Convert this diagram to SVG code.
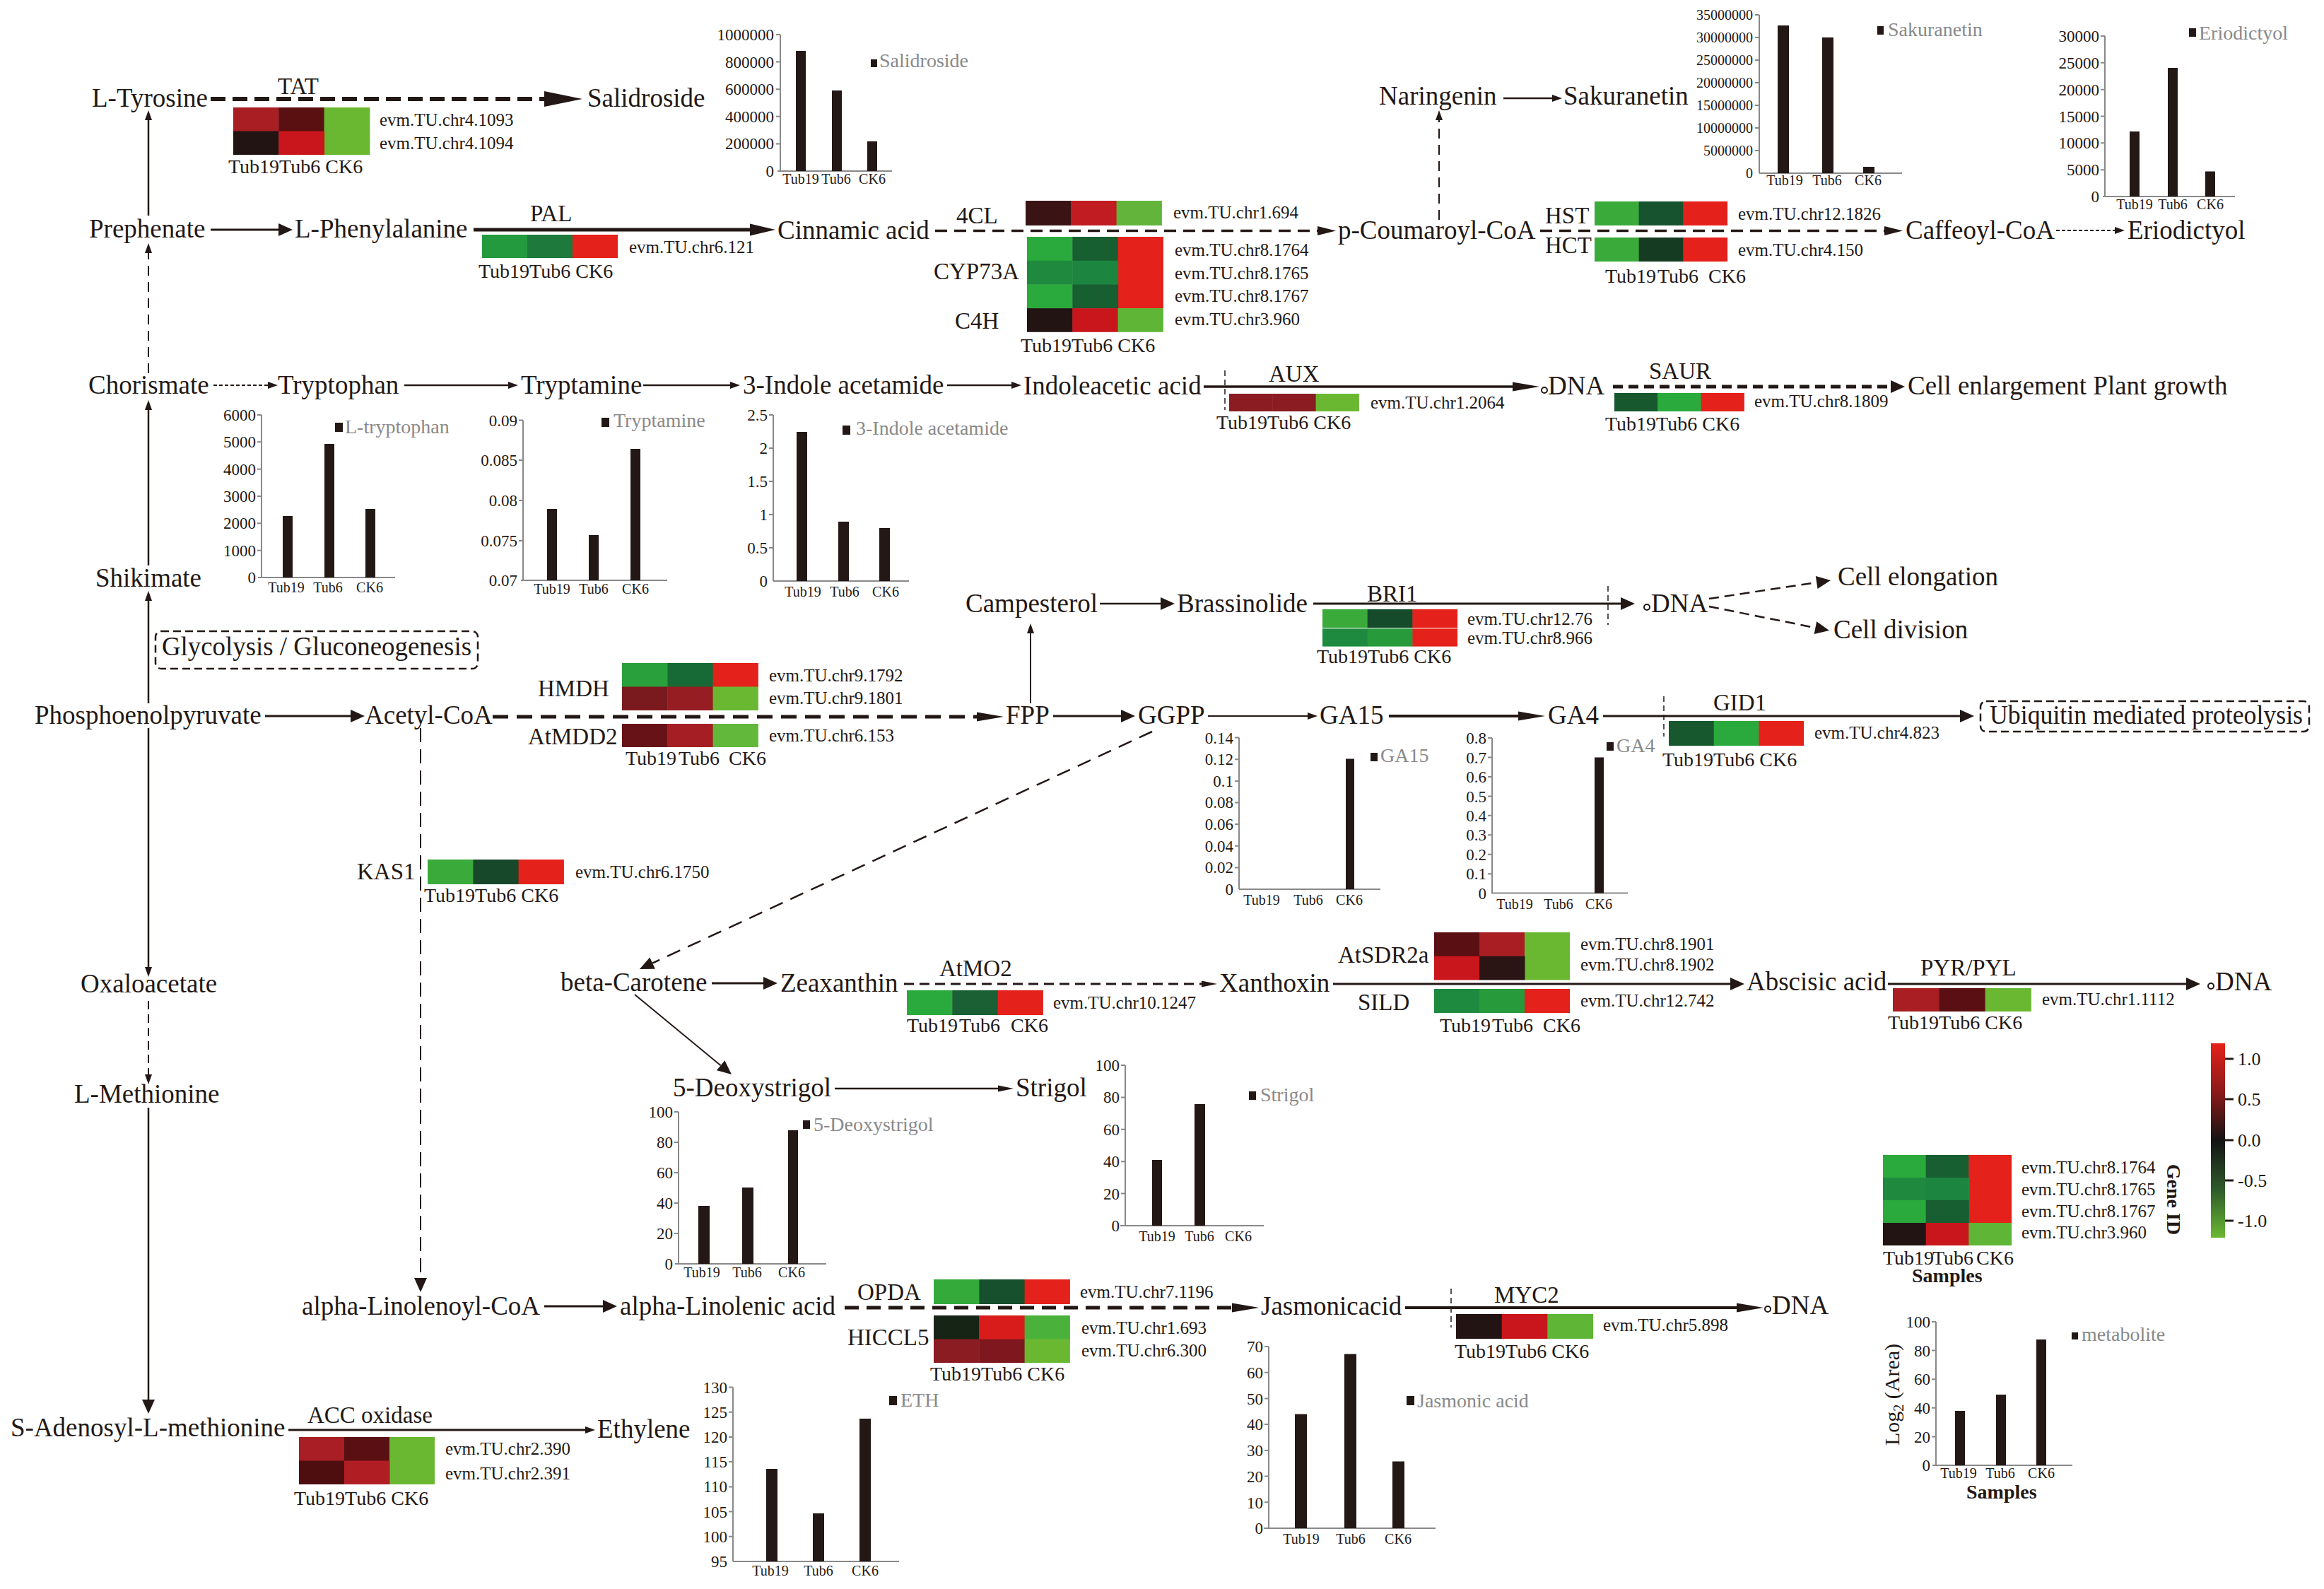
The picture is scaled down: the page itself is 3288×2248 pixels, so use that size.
<svg xmlns="http://www.w3.org/2000/svg" width="3288" height="2248" viewBox="0 0 3288 2248">
<style>
text{font-family:"Liberation Serif","Times New Roman",serif;fill:#231815}
.m{font-size:37px}
.e{font-size:33px}
.g{font-size:25px}
.s{font-size:28px}
.t{font-size:23px;text-anchor:end}
.t2{font-size:20px;text-anchor:end}
.x{font-size:20px;text-anchor:middle}
.lg{font-size:28px;fill:#898989}
.b{font-weight:bold}
.ln{stroke:#231815;fill:none}
.ax{stroke:#898989;stroke-width:2;fill:none}
.bar{fill:#231815}
.box{fill:none;stroke:#231815;stroke-width:2.5;stroke-dasharray:11 6}
.tk{stroke:#231815;stroke-width:1.5;stroke-dasharray:8 5}
</style>
<defs>
<marker id="big" viewBox="0 -11 54 22" markerWidth="54" markerHeight="22" refX="0" refY="0" orient="auto" markerUnits="userSpaceOnUse" overflow="visible"><path d="M0,-11L54,0L0,11z" fill="#231815"/></marker>
<marker id="long" viewBox="0 -6.5 38 13" markerWidth="38" markerHeight="13" refX="0" refY="0" orient="auto" markerUnits="userSpaceOnUse" overflow="visible"><path d="M0,-6.5L38,0L0,6.5z" fill="#231815"/></marker>
<marker id="long2" viewBox="0 -8.5 36 17" markerWidth="36" markerHeight="17" refX="0" refY="0" orient="auto" markerUnits="userSpaceOnUse" overflow="visible"><path d="M0,-8.5L36,0L0,8.5z" fill="#231815"/></marker>
<marker id="mid2" viewBox="0 -6.5 26 13" markerWidth="26" markerHeight="13" refX="0" refY="0" orient="auto" markerUnits="userSpaceOnUse" overflow="visible"><path d="M0,-6.5L26,0L0,6.5z" fill="#231815"/></marker>
<marker id="med" viewBox="0 -9 20 18" markerWidth="20" markerHeight="18" refX="0" refY="0" orient="auto" markerUnits="userSpaceOnUse" overflow="visible"><path d="M0,-9L20,0L0,9z" fill="#231815"/></marker>
<marker id="small" viewBox="0 -5 14 10" markerWidth="14" markerHeight="10" refX="0" refY="0" orient="auto" markerUnits="userSpaceOnUse" overflow="visible"><path d="M0,-5L14,0L0,5z" fill="#231815"/></marker>
<marker id="ls" viewBox="0 -4.5 22 9" markerWidth="22" markerHeight="9" refX="0" refY="0" orient="auto" markerUnits="userSpaceOnUse" overflow="visible"><path d="M0,-4.5L22,0L0,4.5z" fill="#231815"/></marker>
<linearGradient id="cs" x1="0" y1="0" x2="0" y2="1">
<stop offset="0" stop-color="#e4211a"/><stop offset="0.25" stop-color="#8c1a1a"/><stop offset="0.5" stop-color="#141414"/><stop offset="0.75" stop-color="#2e5a2a"/><stop offset="1" stop-color="#6ab832"/>
</linearGradient>
</defs>
<rect width="3288" height="2248" fill="#fff"/>

<g id="connectors">
<line class="ln" x1="298" y1="140" x2="770" y2="140" stroke-width="6" stroke-dasharray="21 10" marker-end="url(#big)"/>
<line class="ln" x1="210" y1="305" x2="210" y2="170" stroke-width="2.5" marker-end="url(#small)"/>
<line class="ln" x1="298" y1="325" x2="394" y2="325" stroke-width="3" marker-end="url(#med)"/>
<line class="ln" x1="670" y1="325" x2="1061" y2="325" stroke-width="5" marker-end="url(#long2)"/>
<line class="ln" x1="1323" y1="326.5" x2="1864" y2="326.5" stroke-width="3.5" stroke-dasharray="17 10" marker-end="url(#mid2)"/>
<line class="ln" x1="2036" y1="311" x2="2036" y2="170" stroke-width="2" stroke-dasharray="14 9" marker-end="url(#small)"/>
<line class="ln" x1="2127" y1="139" x2="2196" y2="139" stroke-width="2.5" marker-end="url(#small)"/>
<line class="ln" x1="2179" y1="326.5" x2="2666" y2="326.5" stroke-width="3.5" stroke-dasharray="17 10" marker-end="url(#mid2)"/>
<line class="ln" x1="2909" y1="326" x2="2992" y2="326" stroke-width="2" stroke-dasharray="5 3" marker-end="url(#small)"/>
<line class="ln" x1="210" y1="528" x2="210" y2="358" stroke-width="2" stroke-dasharray="14 9" marker-end="url(#small)"/>
<line class="ln" x1="302" y1="545" x2="379" y2="545" stroke-width="2" stroke-dasharray="5 3" marker-end="url(#small)"/>
<line class="ln" x1="572" y1="545" x2="719" y2="545" stroke-width="2.5" marker-end="url(#small)"/>
<line class="ln" x1="910" y1="545" x2="1033" y2="545" stroke-width="2.5" marker-end="url(#small)"/>
<line class="ln" x1="1340" y1="545" x2="1431" y2="545" stroke-width="2.5" marker-end="url(#small)"/>
<line class="ln" x1="1703" y1="547" x2="2140" y2="547" stroke-width="3.5" marker-end="url(#long)"/>
<line class="tk" x1="1733" y1="524" x2="1733" y2="580"/>
<line class="ln" x1="2282" y1="547" x2="2675" y2="547" stroke-width="5" stroke-dasharray="14 8" marker-end="url(#med)"/>
<line class="ln" x1="210" y1="800" x2="210" y2="580" stroke-width="2.5" marker-end="url(#small)"/>
<line class="ln" x1="210" y1="995" x2="210" y2="850" stroke-width="2.5" marker-end="url(#small)"/>
<line class="ln" x1="210" y1="1030" x2="210" y2="1368" stroke-width="2.5" marker-end="url(#small)"/>
<line class="ln" x1="210" y1="1416" x2="210" y2="1520" stroke-width="2" stroke-dasharray="12 7" marker-end="url(#small)"/>
<line class="ln" x1="210" y1="1567" x2="210" y2="1980" stroke-width="2.5" marker-end="url(#med)"/>
<line class="ln" x1="375" y1="1013" x2="496" y2="1013" stroke-width="3" marker-end="url(#med)"/>
<line class="ln" x1="697" y1="1014" x2="1382" y2="1014" stroke-width="5" stroke-dasharray="22 12" marker-end="url(#long)"/>
<line class="ln" x1="595" y1="1030" x2="595" y2="1808" stroke-width="2" stroke-dasharray="20 10" marker-end="url(#med)"/>
<line class="ln" x1="1458" y1="995" x2="1458" y2="896" stroke-width="2" marker-end="url(#small)"/>
<line class="ln" x1="1556" y1="854" x2="1642" y2="854" stroke-width="2.5" marker-end="url(#med)"/>
<line class="ln" x1="1858" y1="854" x2="2293" y2="854" stroke-width="3" marker-end="url(#med)"/>
<line class="tk" x1="2275" y1="829" x2="2275" y2="884"/>
<line class="ln" x1="2418" y1="847" x2="2570.2" y2="824" stroke-width="2.5" stroke-dasharray="14 8" marker-end="url(#med)"/>
<line class="ln" x1="2418" y1="858" x2="2568.4" y2="888.1" stroke-width="2.5" stroke-dasharray="14 8" marker-end="url(#med)"/>
<line class="ln" x1="1490" y1="1013" x2="1586" y2="1013" stroke-width="3" marker-end="url(#med)"/>
<line class="ln" x1="1709" y1="1013" x2="1850" y2="1013" stroke-width="2" marker-end="url(#small)"/>
<line class="ln" x1="1965" y1="1013" x2="2148" y2="1013" stroke-width="4" marker-end="url(#long)"/>
<line class="ln" x1="2268" y1="1013" x2="2773" y2="1013" stroke-width="3" stroke="#3e3a39" marker-end="url(#med)"/>
<line class="tk" x1="2354" y1="985" x2="2354" y2="1042"/>
<line class="ln" x1="1630" y1="1035" x2="923.1" y2="1362.6" stroke-width="2.5" stroke-dasharray="20 12" marker-end="url(#med)"/>
<line class="ln" x1="1007" y1="1391" x2="1080" y2="1391" stroke-width="3" marker-end="url(#med)"/>
<line class="ln" x1="1279" y1="1392" x2="1700" y2="1392" stroke-width="3" stroke-dasharray="14 8" marker-end="url(#ls)"/>
<line class="ln" x1="1886" y1="1392" x2="2448" y2="1392" stroke-width="3" marker-end="url(#med)"/>
<line class="ln" x1="2671" y1="1392" x2="3093" y2="1392" stroke-width="3" marker-end="url(#med)"/>
<line class="ln" x1="898" y1="1407" x2="1019.6" y2="1507.3" stroke-width="2" marker-end="url(#med)"/>
<line class="ln" x1="1181" y1="1540" x2="1412" y2="1540" stroke-width="2.5" marker-end="url(#ls)"/>
<line class="ln" x1="770" y1="1848" x2="853" y2="1848" stroke-width="3" marker-end="url(#med)"/>
<line class="ln" x1="1195" y1="1850" x2="1743" y2="1850" stroke-width="5" stroke-dasharray="20 11" marker-end="url(#long)"/>
<line class="ln" x1="1988" y1="1850" x2="2457" y2="1850" stroke-width="4" marker-end="url(#long)"/>
<line class="tk" x1="2053" y1="1823" x2="2053" y2="1878"/>
<line class="ln" x1="408" y1="2023" x2="828" y2="2023" stroke-width="3" marker-end="url(#small)"/>
</g>

<g id="n-ltyrosine"><text class="m" x="130" y="151">L-Tyrosine</text></g>
<g id="n-salidroside"><text class="m" x="831" y="151">Salidroside</text></g>
<g id="n-prephenate"><text class="m" x="126" y="336">Prephenate</text></g>
<g id="n-lphenylalanine"><text class="m" x="417" y="336">L-Phenylalanine</text></g>
<g id="n-cinnamic"><text class="m" x="1100" y="338">Cinnamic acid</text></g>
<g id="n-pcoumaroyl"><text class="m" x="1893" y="338">p-Coumaroyl-CoA</text></g>
<g id="n-naringenin"><text class="m" x="1951" y="148">Naringenin</text></g>
<g id="n-sakuranetin"><text class="m" x="2212" y="148">Sakuranetin</text></g>
<g id="n-caffeoyl"><text class="m" x="2696" y="338">Caffeoyl-CoA</text></g>
<g id="n-eriodictyol"><text class="m" x="3010" y="338">Eriodictyol</text></g>
<g id="n-chorismate"><text class="m" x="125" y="557">Chorismate</text></g>
<g id="n-tryptophan"><text class="m" x="393" y="557">Tryptophan</text></g>
<g id="n-tryptamine"><text class="m" x="737" y="557">Tryptamine</text></g>
<g id="n-indoleacetamide"><text class="m" x="1051" y="557">3-Indole acetamide</text></g>
<g id="n-iaa"><text class="m" x="1448" y="558">Indoleacetic acid</text></g>
<g id="n-dna1"><circle cx="2185" cy="552" r="4" fill="none" stroke="#231815" stroke-width="2"/><text class="m" x="2190" y="558">DNA</text></g>
<g id="n-cellenlarge"><text class="m" x="2699" y="558">Cell enlargement Plant growth</text></g>
<g id="n-shikimate"><text class="m" x="135" y="830">Shikimate</text></g>
<g id="n-glycolysis"><rect class="box" x="220" y="893" width="456" height="53" rx="8"/><text class="m" x="229" y="927" textLength="438" lengthAdjust="spacingAndGlyphs">Glycolysis / Gluconeogenesis</text></g>
<g id="n-campesterol"><text class="m" x="1366" y="866">Campesterol</text></g>
<g id="n-brassinolide"><text class="m" x="1665" y="866">Brassinolide</text></g>
<g id="n-dna2"><circle cx="2330" cy="859" r="4" fill="none" stroke="#231815" stroke-width="2"/><text class="m" x="2336" y="866">DNA</text></g>
<g id="n-cellelong"><text class="m" x="2600" y="828">Cell elongation</text></g>
<g id="n-celldiv"><text class="m" x="2594" y="903">Cell division</text></g>
<g id="n-pep"><text class="m" x="49" y="1024">Phosphoenolpyruvate</text></g>
<g id="n-acetylcoa"><text class="m" x="516" y="1024">Acetyl-CoA</text></g>
<g id="n-fpp"><text class="m" x="1423" y="1024">FPP</text></g>
<g id="n-ggpp"><text class="m" x="1610" y="1024">GGPP</text></g>
<g id="n-ga15"><text class="m" x="1867" y="1024">GA15</text></g>
<g id="n-ga4"><text class="m" x="2190" y="1024">GA4</text></g>
<g id="n-ubiquitin"><rect class="box" x="2802" y="992" width="465" height="43" rx="8"/><text class="m" x="2815" y="1024" textLength="443" lengthAdjust="spacingAndGlyphs">Ubiquitin mediated proteolysis</text></g>
<g id="n-oxaloacetate"><text class="m" x="114" y="1404">Oxaloacetate</text></g>
<g id="n-betacarotene"><text class="m" x="793" y="1402">beta-Carotene</text></g>
<g id="n-zeaxanthin"><text class="m" x="1104" y="1403">Zeaxanthin</text></g>
<g id="n-xanthoxin"><text class="m" x="1725" y="1403">Xanthoxin</text></g>
<g id="n-aba"><text class="m" x="2471" y="1401">Abscisic acid</text></g>
<g id="n-dna3"><circle cx="3128" cy="1395" r="4" fill="none" stroke="#231815" stroke-width="2"/><text class="m" x="3134" y="1401">DNA</text></g>
<g id="n-deoxystrigol"><text class="m" x="952" y="1551">5-Deoxystrigol</text></g>
<g id="n-strigol"><text class="m" x="1437" y="1551">Strigol</text></g>
<g id="n-lmethionine"><text class="m" x="105" y="1560">L-Methionine</text></g>
<g id="n-linolenoylcoa"><text class="m" x="427" y="1860">alpha-Linolenoyl-CoA</text></g>
<g id="n-linolenic"><text class="m" x="877" y="1860">alpha-Linolenic acid</text></g>
<g id="n-jasmonic"><text class="m" x="1784" y="1860">Jasmonicacid</text></g>
<g id="n-dna4"><circle cx="2501" cy="1852" r="4" fill="none" stroke="#231815" stroke-width="2"/><text class="m" x="2507" y="1859">DNA</text></g>
<g id="n-sam"><text class="m" x="15" y="2032">S-Adenosyl-L-methionine</text></g>
<g id="n-ethylene"><text class="m" x="845" y="2034">Ethylene</text></g>

<!-- enzyme heatmaps -->
<g id="e-tat">
<text class="e" x="393" y="133">TAT</text>
<rect x="330" y="152" width="64.8" height="34" fill="#a81e22"/><rect x="394.3" y="152" width="64.8" height="34" fill="#5a0f10"/><rect x="458.6" y="152" width="64.8" height="67" fill="#6ab832"/>
<rect x="330" y="185.5" width="64.8" height="33.5" fill="#231414"/><rect x="394.3" y="185.5" width="64.8" height="33.5" fill="#c8161c"/>
<text class="g" x="537" y="178">evm.TU.chr4.1093</text><text class="g" x="537" y="211">evm.TU.chr4.1094</text>
<text class="s" x="323" y="245">Tub19Tub6 CK6</text>
</g>
<g id="e-pal">
<text class="e" x="750" y="313">PAL</text>
<rect x="682" y="332" width="64.5" height="33" fill="#239a3e"/><rect x="746" y="332" width="64.5" height="33" fill="#1e7a3c"/><rect x="810" y="332" width="64" height="33" fill="#e4211a"/>
<text class="g" x="890" y="358">evm.TU.chr6.121</text>
<text class="s" x="677" y="393">Tub19Tub6 CK6</text>
</g>
<g id="e-4cl">
<text class="e" x="1353" y="316">4CL</text>
<rect x="1451" y="284" width="64.8" height="35" fill="#3a1414"/><rect x="1515.3" y="284" width="64.8" height="35" fill="#c01c22"/><rect x="1579.6" y="284" width="64.3" height="35" fill="#62b43a"/>
<text class="g" x="1660" y="309">evm.TU.chr1.694</text>
</g>
<g id="e-cyp73a">
<text class="e" x="1321" y="394.5">CYP73A</text>
<text class="e" x="1351" y="465">C4H</text>
<rect x="1453" y="335" width="64.8" height="34.2" fill="#2aaa3c"/><rect x="1517.3" y="335" width="64.8" height="34.2" fill="#175e30"/><rect x="1581.6" y="335" width="64.3" height="101.5" fill="#e4211a"/>
<rect x="1453" y="368.7" width="64.8" height="34.2" fill="#1f8a3e"/><rect x="1517.3" y="368.7" width="64.8" height="34.2" fill="#1c8540"/>
<rect x="1453" y="402.4" width="64.8" height="34.2" fill="#2aaa3c"/><rect x="1517.3" y="402.4" width="64.8" height="34.2" fill="#175e30"/>
<rect x="1453" y="436.1" width="64.8" height="33.7" fill="#231414"/><rect x="1517.3" y="436.1" width="64.8" height="33.7" fill="#c8161c"/><rect x="1581.6" y="436.1" width="64.3" height="33.7" fill="#5fb535"/>
<text class="g" x="1662" y="362">evm.TU.chr8.1764</text><text class="g" x="1662" y="394.5">evm.TU.chr8.1765</text><text class="g" x="1662" y="427">evm.TU.chr8.1767</text><text class="g" x="1662" y="460">evm.TU.chr3.960</text>
<text class="s" x="1444" y="498">Tub19Tub6 CK6</text>
</g>
<g id="e-hst">
<text class="e" x="2186" y="316">HST</text>
<rect x="2256" y="285" width="63.2" height="34" fill="#3aaa3a"/><rect x="2318.7" y="285" width="63.2" height="34" fill="#17532e"/><rect x="2381.4" y="285" width="62.7" height="34" fill="#e4211a"/>
<text class="g" x="2459" y="311">evm.TU.chr12.1826</text>
</g>
<g id="e-hct">
<text class="e" x="2186" y="358">HCT</text>
<rect x="2256" y="336" width="63.2" height="34" fill="#3aaa3a"/><rect x="2318.7" y="336" width="63.2" height="34" fill="#153c22"/><rect x="2381.4" y="336" width="62.7" height="34" fill="#e4211a"/>
<text class="g" x="2459" y="362">evm.TU.chr4.150</text>
<text class="s" y="400"><tspan x="2271">Tub19</tspan><tspan x="2345">Tub6</tspan><tspan x="2417">CK6</tspan></text>
</g>
<g id="e-aux">
<text class="e" x="1795" y="540">AUX</text>
<rect x="1739" y="557" width="61.8" height="25" fill="#8a1c22"/><rect x="1800.3" y="557" width="61.8" height="25" fill="#8a1c22"/><rect x="1861.6" y="557" width="61.3" height="25" fill="#6ab832"/>
<text class="g" x="1939" y="578">evm.TU.chr1.2064</text>
<text class="s" x="1721" y="607">Tub19Tub6 CK6</text>
</g>
<g id="e-saur">
<text class="e" x="2333" y="536">SAUR</text>
<rect x="2284" y="556" width="61.8" height="26" fill="#17582e"/><rect x="2345.3" y="556" width="61.8" height="26" fill="#2aaa3c"/><rect x="2406.6" y="556" width="61.3" height="26" fill="#e4211a"/>
<text class="g" x="2482" y="576">evm.TU.chr8.1809</text>
<text class="s" x="2271" y="609">Tub19Tub6 CK6</text>
</g>
<g id="e-bri1">
<text class="e" x="1934" y="851">BRI1</text>
<rect x="1871" y="862" width="64.2" height="26.3" fill="#3aaa3a"/><rect x="1934.7" y="862" width="64.2" height="26.3" fill="#154a2a"/><rect x="1998.4" y="862" width="63.7" height="26.3" fill="#e4211a"/>
<rect x="1871" y="889.3" width="64.2" height="25.3" fill="#1e8a40"/><rect x="1934.7" y="889.3" width="64.2" height="25.3" fill="#279a3c"/><rect x="1998.4" y="889.3" width="63.7" height="25.3" fill="#e4211a"/>
<text class="g" x="2076" y="884">evm.TU.chr12.76</text><text class="g" x="2076" y="911">evm.TU.chr8.966</text>
<text class="s" x="1863" y="938">Tub19Tub6 CK6</text>
</g>
<g id="e-hmdh">
<text class="e" x="761" y="985">HMDH</text>
<rect x="880" y="938" width="64.8" height="34" fill="#2aa03c"/><rect x="944.3" y="938" width="64.8" height="34" fill="#176a36"/><rect x="1008.6" y="938" width="64.3" height="34" fill="#e4211a"/>
<rect x="880" y="971.5" width="64.8" height="33.5" fill="#7a1a1e"/><rect x="944.3" y="971.5" width="64.8" height="33.5" fill="#961e22"/><rect x="1008.6" y="971.5" width="64.3" height="33.5" fill="#6ab832"/>
<text class="g" x="1088" y="964">evm.TU.chr9.1792</text><text class="g" x="1088" y="996">evm.TU.chr9.1801</text>
</g>
<g id="e-atmdd2">
<text class="e" x="747" y="1053">AtMDD2</text>
<rect x="880" y="1024" width="64.8" height="33" fill="#661216"/><rect x="944.3" y="1024" width="64.8" height="33" fill="#a41e24"/><rect x="1008.6" y="1024" width="64.3" height="33" fill="#62b83a"/>
<text class="g" x="1088" y="1049">evm.TU.chr6.153</text>
<text class="s" y="1082"><tspan x="885">Tub19</tspan><tspan x="960">Tub6</tspan><tspan x="1031">CK6</tspan></text>
</g>
<g id="e-gid1">
<text class="e" x="2424" y="1005">GID1</text>
<rect x="2361" y="1020" width="64.2" height="35" fill="#17582e"/><rect x="2424.7" y="1020" width="64.2" height="35" fill="#2aaa3c"/><rect x="2488.4" y="1020" width="63.7" height="35" fill="#e4211a"/>
<text class="g" x="2567" y="1045">evm.TU.chr4.823</text>
<text class="s" x="2352" y="1084">Tub19Tub6 CK6</text>
</g>
<g id="e-kas1">
<text class="e" x="505" y="1244">KAS1</text>
<rect x="605" y="1216" width="64.8" height="35" fill="#3aaa3a"/><rect x="669.3" y="1216" width="64.8" height="35" fill="#17482a"/><rect x="733.6" y="1216" width="64.3" height="35" fill="#e4211a"/>
<text class="g" x="814" y="1242">evm.TU.chr6.1750</text>
<text class="s" x="600" y="1276">Tub19Tub6 CK6</text>
</g>
<g id="e-atmo2">
<text class="e" x="1329" y="1381">AtMO2</text>
<rect x="1283" y="1401" width="64.8" height="35" fill="#2aaa3c"/><rect x="1347.3" y="1401" width="64.8" height="35" fill="#1a6034"/><rect x="1411.6" y="1401" width="64.3" height="35" fill="#e4211a"/>
<text class="g" x="1490" y="1427">evm.TU.chr10.1247</text>
<text class="s" y="1460"><tspan x="1283">Tub19</tspan><tspan x="1357">Tub6</tspan><tspan x="1430">CK6</tspan></text>
</g>
<g id="e-atsdr2a">
<text class="e" x="1893" y="1362">AtSDR2a</text>
<rect x="2029" y="1319" width="64.5" height="34.2" fill="#5a0f12"/><rect x="2093" y="1319" width="64.5" height="34.2" fill="#a81e22"/><rect x="2157" y="1319" width="64" height="67.5" fill="#6ab832"/>
<rect x="2029" y="1352.75" width="64.5" height="33.75" fill="#c8161c"/><rect x="2093" y="1352.75" width="64.5" height="33.75" fill="#2a1414"/>
<text class="g" x="2236" y="1344">evm.TU.chr8.1901</text><text class="g" x="2236" y="1373">evm.TU.chr8.1902</text>
</g>
<g id="e-sild">
<text class="e" x="1921" y="1429">SILD</text>
<rect x="2029" y="1399" width="64.5" height="34" fill="#1e8a40"/><rect x="2093" y="1399" width="64.5" height="34" fill="#279a3c"/><rect x="2157" y="1399" width="64" height="34" fill="#e4211a"/>
<text class="g" x="2236" y="1424">evm.TU.chr12.742</text>
<text class="s" y="1460"><tspan x="2037">Tub19</tspan><tspan x="2111">Tub6</tspan><tspan x="2183">CK6</tspan></text>
</g>
<g id="e-pyrpyl">
<text class="e" x="2717" y="1380">PYR/PYL</text>
<rect x="2678" y="1398" width="65.8" height="33" fill="#a81e22"/><rect x="2743.3" y="1398" width="65.8" height="33" fill="#5a0f12"/><rect x="2808.6" y="1398" width="65.3" height="33" fill="#6ab832"/>
<text class="g" x="2889" y="1422">evm.TU.chr1.1112</text>
<text class="s" x="2671" y="1456">Tub19Tub6 CK6</text>
</g>
<g id="e-opda">
<text class="e" x="1213" y="1839">OPDA</text>
<rect x="1321" y="1810" width="64.8" height="35" fill="#33aa3a"/><rect x="1385.3" y="1810" width="64.8" height="35" fill="#17502c"/><rect x="1449.6" y="1810" width="64.3" height="35" fill="#e4211a"/>
<text class="g" x="1528" y="1836">evm.TU.chr7.1196</text>
</g>
<g id="e-hiccl5">
<text class="e" x="1199" y="1903">HICCL5</text>
<rect x="1321" y="1861" width="64.8" height="34" fill="#162416"/><rect x="1385.3" y="1861" width="64.8" height="34" fill="#d81c1c"/><rect x="1449.6" y="1861" width="64.3" height="34" fill="#4ab23a"/>
<rect x="1321" y="1894.5" width="64.8" height="33.5" fill="#8a1c22"/><rect x="1385.3" y="1894.5" width="64.8" height="33.5" fill="#7e181e"/><rect x="1449.6" y="1894.5" width="64.3" height="33.5" fill="#6ab832"/>
<text class="g" x="1530" y="1887">evm.TU.chr1.693</text><text class="g" x="1530" y="1919">evm.TU.chr6.300</text>
<text class="s" x="1316" y="1953">Tub19Tub6 CK6</text>
</g>
<g id="e-myc2">
<text class="e" x="2114" y="1843">MYC2</text>
<rect x="2060" y="1859" width="65.2" height="35" fill="#231414"/><rect x="2124.7" y="1859" width="65.2" height="35" fill="#c8161c"/><rect x="2189.4" y="1859" width="64.7" height="35" fill="#5fb535"/>
<text class="g" x="2268" y="1883">evm.TU.chr5.898</text>
<text class="s" x="2058" y="1921">Tub19Tub6 CK6</text>
</g>
<g id="e-acc">
<text class="e" x="435" y="2013">ACC oxidase</text>
<rect x="423" y="2033" width="64.5" height="34" fill="#a81e24"/><rect x="487" y="2033" width="64.5" height="34" fill="#5a0f12"/><rect x="551" y="2033" width="64" height="67" fill="#6ab832"/>
<rect x="423" y="2066.5" width="64.5" height="33.5" fill="#4e0e10"/><rect x="487" y="2066.5" width="64.5" height="33.5" fill="#b01e24"/>
<text class="g" x="630" y="2058">evm.TU.chr2.390</text><text class="g" x="630" y="2093">evm.TU.chr2.391</text>
<text class="s" x="416" y="2129">Tub19Tub6 CK6</text>
</g>

<!-- legend heatmap & colour scale -->
<g id="legend-heatmap">
<rect x="2664" y="1634" width="61.2" height="32.5" fill="#2aaa3c"/><rect x="2724.7" y="1634" width="61.2" height="32.5" fill="#175e30"/><rect x="2785.4" y="1634" width="60.7" height="96" fill="#e4211a"/>
<rect x="2664" y="1666" width="61.2" height="32.5" fill="#1f8a3e"/><rect x="2724.7" y="1666" width="61.2" height="32.5" fill="#1c8540"/>
<rect x="2664" y="1698" width="61.2" height="32.5" fill="#2aaa3c"/><rect x="2724.7" y="1698" width="61.2" height="32.5" fill="#175e30"/>
<rect x="2664" y="1730" width="61.2" height="32" fill="#231414"/><rect x="2724.7" y="1730" width="61.2" height="32" fill="#c8161c"/><rect x="2785.4" y="1730" width="60.7" height="32" fill="#5fb535"/>
<text class="g" x="2860" y="1660">evm.TU.chr8.1764</text><text class="g" x="2860" y="1691">evm.TU.chr8.1765</text><text class="g" x="2860" y="1722">evm.TU.chr8.1767</text><text class="g" x="2860" y="1752">evm.TU.chr3.960</text>
<text class="s" y="1789"><tspan x="2664">Tub19</tspan><tspan x="2734">Tub6</tspan><tspan x="2796">CK6</tspan></text>
<text class="s b" x="2705" y="1814">Samples</text>
<text class="s b" transform="translate(3066,1697) rotate(90)" text-anchor="middle">Gene ID</text>
</g>
<g id="legend-colorscale">
<rect x="3128" y="1476" width="20" height="275" fill="url(#cs)"/>
<g stroke="#231815" stroke-width="3"><line x1="3148" y1="1498" x2="3160" y2="1498"/><line x1="3148" y1="1555" x2="3160" y2="1555"/><line x1="3148" y1="1613" x2="3160" y2="1613"/><line x1="3148" y1="1670" x2="3160" y2="1670"/><line x1="3148" y1="1727" x2="3160" y2="1727"/></g>
<g font-size="26"><text x="3166" y="1507">1.0</text><text x="3166" y="1564">0.5</text><text x="3166" y="1622">0.0</text><text x="3166" y="1679">-0.5</text><text x="3166" y="1736">-1.0</text></g>
</g>

<!-- bar charts -->
<g id="chart-salidroside">
<path class="ax" d="M1104,49V242M1100,242H1262M1098,49H1104M1098,87.6H1104M1098,126.2H1104M1098,164.8H1104M1098,203.4H1104"/>
<g class="t"><text x="1095" y="57">1000000</text><text x="1095" y="96">800000</text><text x="1095" y="134">600000</text><text x="1095" y="173">400000</text><text x="1095" y="211">200000</text><text x="1095" y="250">0</text></g>
<rect class="bar" x="1126" y="72" width="14" height="170"/><rect class="bar" x="1177" y="128" width="14" height="114"/><rect class="bar" x="1227" y="200" width="14" height="42"/>
<g class="x"><text x="1133" y="260">Tub19</text><text x="1183" y="260">Tub6</text><text x="1234" y="260">CK6</text></g>
<rect class="bar" x="1232" y="84" width="9" height="11"/><text class="lg" x="1244" y="95">Salidroside</text>
</g>
<g id="chart-sakuranetin">
<path class="ax" d="M2489,21V245M2489,245H2691M2483,21H2489M2483,53H2489M2483,85H2489M2483,117H2489M2483,149H2489M2483,181H2489M2483,213H2489"/>
<g class="t2"><text x="2480" y="28">35000000</text><text x="2480" y="60">30000000</text><text x="2480" y="92">25000000</text><text x="2480" y="124">20000000</text><text x="2480" y="156">15000000</text><text x="2480" y="188">10000000</text><text x="2480" y="220">5000000</text><text x="2480" y="252">0</text></g>
<rect class="bar" x="2515" y="36" width="16" height="209"/><rect class="bar" x="2578" y="53" width="16" height="192"/><rect class="bar" x="2636" y="236" width="16" height="9"/>
<g class="x"><text x="2525" y="262">Tub19</text><text x="2585" y="262">Tub6</text><text x="2643" y="262">CK6</text></g>
<rect class="bar" x="2656" y="37" width="9" height="12"/><text class="lg" x="2671" y="51">Sakuranetin</text>
</g>
<g id="chart-eriodictyol">
<path class="ax" d="M2978,51V278M2975,278H3162M2972,51H2978M2972,88.8H2978M2972,126.7H2978M2972,164.5H2978M2972,202.3H2978M2972,240.2H2978"/>
<g class="t"><text x="2970" y="59">30000</text><text x="2970" y="97">25000</text><text x="2970" y="135">20000</text><text x="2970" y="173">15000</text><text x="2970" y="210">10000</text><text x="2970" y="248">5000</text><text x="2970" y="286">0</text></g>
<rect class="bar" x="3013" y="186" width="14" height="92"/><rect class="bar" x="3067" y="96" width="14" height="182"/><rect class="bar" x="3120" y="242.5" width="14" height="35.5"/>
<g class="x"><text x="3020" y="296">Tub19</text><text x="3074" y="296">Tub6</text><text x="3127" y="296">CK6</text></g>
<rect class="bar" x="3097" y="40" width="10" height="12"/><text class="lg" x="3111" y="56">Eriodictyol</text>
</g>
<g id="chart-ltryptophan">
<path class="ax" d="M370,587V817M365,817H559M364,587H370M364,625.3H370M364,663.7H370M364,702H370M364,740.3H370M364,778.7H370"/>
<g class="t"><text x="362" y="595">6000</text><text x="362" y="633">5000</text><text x="362" y="672">4000</text><text x="362" y="710">3000</text><text x="362" y="748">2000</text><text x="362" y="787">1000</text><text x="362" y="825">0</text></g>
<rect class="bar" x="400" y="730" width="14" height="87"/><rect class="bar" x="459" y="628" width="14" height="189"/><rect class="bar" x="517" y="720" width="14" height="97"/>
<g class="x"><text x="405" y="838">Tub19</text><text x="464" y="838">Tub6</text><text x="523" y="838">CK6</text></g>
<rect class="bar" x="474" y="598" width="11" height="13"/><text class="lg" x="488" y="613">L-tryptophan</text>
</g>
<g id="chart-tryptamine">
<path class="ax" d="M740,594.5V821M737,821H944M734,594.5H740M734,651H740M734,708H740M734,765H740"/>
<g class="t"><text x="732" y="603">0.09</text><text x="732" y="659">0.085</text><text x="732" y="716">0.08</text><text x="732" y="773">0.075</text><text x="732" y="829">0.07</text></g>
<rect class="bar" x="774" y="720" width="14" height="101"/><rect class="bar" x="833" y="757" width="14" height="64"/><rect class="bar" x="892" y="635" width="14" height="186"/>
<g class="x"><text x="781" y="840">Tub19</text><text x="840" y="840">Tub6</text><text x="899" y="840">CK6</text></g>
<rect class="bar" x="851" y="591" width="11" height="13"/><text class="lg" x="868" y="604">Tryptamine</text>
</g>
<g id="chart-indoleacetamide">
<path class="ax" d="M1094,587V822M1094,822H1286M1088,587H1094M1088,634H1094M1088,681H1094M1088,728H1094M1088,775H1094"/>
<g class="t"><text x="1086" y="595">2.5</text><text x="1086" y="642">2</text><text x="1086" y="689">1.5</text><text x="1086" y="736">1</text><text x="1086" y="783">0.5</text><text x="1086" y="830">0</text></g>
<rect class="bar" x="1127" y="611" width="15" height="211"/><rect class="bar" x="1186" y="738" width="15" height="84"/><rect class="bar" x="1244" y="747" width="15" height="75"/>
<g class="x"><text x="1136" y="844">Tub19</text><text x="1195" y="844">Tub6</text><text x="1253" y="844">CK6</text></g>
<rect class="bar" x="1192" y="602" width="11" height="13"/><text class="lg" x="1211" y="615">3-Indole acetamide</text>
</g>
<g id="chart-ga15">
<path class="ax" d="M1753,1043.6V1258M1753,1258H1953M1747,1043.6H1753M1747,1074.2H1753M1747,1104.9H1753M1747,1135.5H1753M1747,1166.1H1753M1747,1196.7H1753M1747,1227.4H1753"/>
<g class="t" font-size="22"><text x="1745" y="1052">0.14</text><text x="1745" y="1082">0.12</text><text x="1745" y="1113">0.1</text><text x="1745" y="1143">0.08</text><text x="1745" y="1174">0.06</text><text x="1745" y="1205">0.04</text><text x="1745" y="1235">0.02</text><text x="1745" y="1266">0</text></g>
<rect class="bar" x="1904" y="1073.5" width="12" height="184.5"/>
<g class="x"><text x="1785" y="1280">Tub19</text><text x="1851" y="1280">Tub6</text><text x="1909" y="1280">CK6</text></g>
<rect class="bar" x="1939" y="1065" width="10" height="12"/><text class="lg" x="1953" y="1078">GA15</text>
</g>
<g id="chart-ga4">
<path class="ax" d="M2111,1044V1263.6M2110,1263.6H2303M2105,1044H2111M2105,1071.5H2111M2105,1098.9H2111M2105,1126.4H2111M2105,1153.8H2111M2105,1181.3H2111M2105,1208.7H2111M2105,1236.2H2111"/>
<g class="t" font-size="22"><text x="2103" y="1052">0.8</text><text x="2103" y="1080">0.7</text><text x="2103" y="1107">0.6</text><text x="2103" y="1135">0.5</text><text x="2103" y="1162">0.4</text><text x="2103" y="1189">0.3</text><text x="2103" y="1217">0.2</text><text x="2103" y="1244">0.1</text><text x="2103" y="1272">0</text></g>
<rect class="bar" x="2256" y="1071.5" width="13" height="192"/>
<g class="x"><text x="2143" y="1286">Tub19</text><text x="2205" y="1286">Tub6</text><text x="2262" y="1286">CK6</text></g>
<rect class="bar" x="2273" y="1050" width="10" height="12"/><text class="lg" x="2287" y="1064">GA4</text>
</g>
<g id="chart-deoxystrigol">
<path class="ax" d="M960,1573V1788M955,1788H1169M954,1573H960M954,1616H960M954,1659H960M954,1702H960M954,1745H960"/>
<g class="t"><text x="952" y="1581">100</text><text x="952" y="1624">80</text><text x="952" y="1667">60</text><text x="952" y="1710">40</text><text x="952" y="1753">20</text><text x="952" y="1796">0</text></g>
<rect class="bar" x="988" y="1706" width="16" height="82"/><rect class="bar" x="1050" y="1680" width="16" height="108"/><rect class="bar" x="1115" y="1599" width="14" height="189"/>
<g class="x"><text x="993" y="1807">Tub19</text><text x="1057" y="1807">Tub6</text><text x="1120" y="1807">CK6</text></g>
<rect class="bar" x="1136" y="1585" width="10" height="12"/><text class="lg" x="1151" y="1600">5-Deoxystrigol</text>
</g>
<g id="chart-strigol">
<path class="ax" d="M1592,1507V1734M1585,1734H1788M1586,1507H1592M1586,1552.4H1592M1586,1597.8H1592M1586,1643.2H1592M1586,1688.6H1592"/>
<g class="t"><text x="1584" y="1515">100</text><text x="1584" y="1560">80</text><text x="1584" y="1606">60</text><text x="1584" y="1651">40</text><text x="1584" y="1697">20</text><text x="1584" y="1742">0</text></g>
<rect class="bar" x="1630" y="1641" width="14" height="93"/><rect class="bar" x="1690" y="1562" width="15" height="172"/>
<g class="x"><text x="1637" y="1756">Tub19</text><text x="1697" y="1756">Tub6</text><text x="1752" y="1756">CK6</text></g>
<rect class="bar" x="1767" y="1544" width="10" height="12"/><text class="lg" x="1783" y="1558">Strigol</text>
</g>
<g id="chart-eth">
<path class="ax" d="M1037,1962.5V2209M1037,2209H1272M1031,1962.5H1037M1031,1997.7H1037M1031,2032.9H1037M1031,2068.1H1037M1031,2103.4H1037M1031,2138.6H1037M1031,2173.8H1037"/>
<g class="t"><text x="1029" y="1971">130</text><text x="1029" y="2006">125</text><text x="1029" y="2041">120</text><text x="1029" y="2076">115</text><text x="1029" y="2111">110</text><text x="1029" y="2147">105</text><text x="1029" y="2182">100</text><text x="1029" y="2217">95</text></g>
<rect class="bar" x="1084" y="2078" width="16" height="131"/><rect class="bar" x="1150" y="2141" width="16" height="68"/><rect class="bar" x="1216" y="2007" width="16" height="202"/>
<g class="x"><text x="1090" y="2229">Tub19</text><text x="1158" y="2229">Tub6</text><text x="1224" y="2229">CK6</text></g>
<rect class="bar" x="1258" y="1975" width="11" height="13"/><text class="lg" x="1274" y="1990">ETH</text>
</g>
<g id="chart-jasmonic">
<path class="ax" d="M1795,1905V2162M1788,2162H2031M1789,1905H1795M1789,1941.7H1795M1789,1978.4H1795M1789,2015.1H1795M1789,2051.9H1795M1789,2088.6H1795M1789,2125.3H1795"/>
<g class="t"><text x="1787" y="1913">70</text><text x="1787" y="1950">60</text><text x="1787" y="1987">50</text><text x="1787" y="2023">40</text><text x="1787" y="2060">30</text><text x="1787" y="2097">20</text><text x="1787" y="2134">10</text><text x="1787" y="2170">0</text></g>
<rect class="bar" x="1832" y="2000.6" width="17" height="161.4"/><rect class="bar" x="1902" y="1915.6" width="17" height="246.4"/><rect class="bar" x="1970" y="2067.5" width="17" height="94.5"/>
<g class="x"><text x="1841" y="2184">Tub19</text><text x="1911" y="2184">Tub6</text><text x="1978" y="2184">CK6</text></g>
<rect class="bar" x="1990" y="1975" width="11" height="13"/><text class="lg" x="2005" y="1991">Jasmonic acid</text>
</g>
<g id="legend-chart">
<path class="ax" d="M2739,1870V2073M2734,2073H2932M2733,1870H2739M2733,1910.6H2739M2733,1951.2H2739M2733,1991.8H2739M2733,2032.4H2739"/>
<g class="t"><text x="2731" y="1878">100</text><text x="2731" y="1919">80</text><text x="2731" y="1959">60</text><text x="2731" y="2000">40</text><text x="2731" y="2041">20</text><text x="2731" y="2081">0</text></g>
<rect class="bar" x="2766" y="1996" width="14" height="77"/><rect class="bar" x="2824" y="1973" width="14" height="100"/><rect class="bar" x="2881" y="1895" width="14" height="178"/>
<g class="x"><text x="2771" y="2091">Tub19</text><text x="2830" y="2091">Tub6</text><text x="2888" y="2091">CK6</text></g>
<rect class="bar" x="2931" y="1885" width="9" height="10"/><text class="lg" x="2945" y="1897">metabolite</text>
<text class="s b" x="2782" y="2120">Samples</text>
<text font-size="30" transform="translate(2687,1973) rotate(-90)" text-anchor="middle">Log<tspan font-size="20" dy="6">2</tspan><tspan dy="-6"> (Area)</tspan></text>
</g>
</svg>
